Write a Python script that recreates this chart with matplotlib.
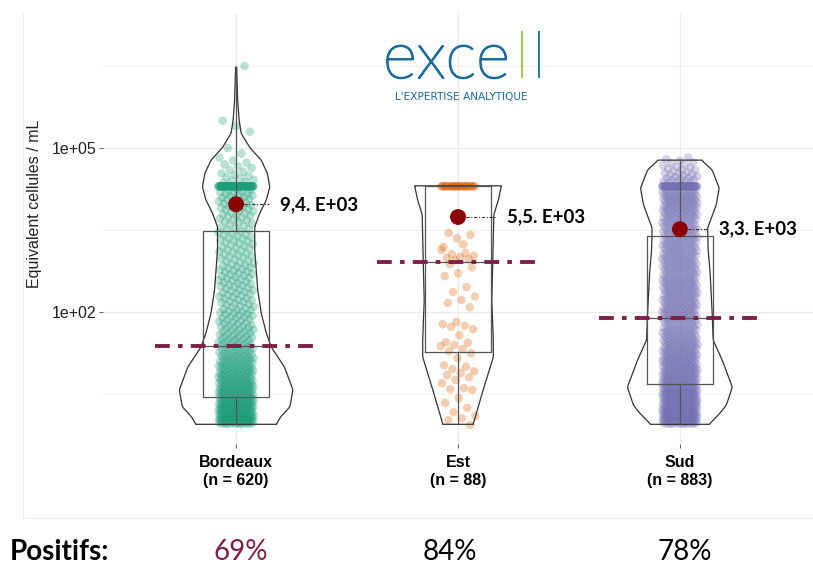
import numpy as np
import matplotlib
matplotlib.use('Agg')
import matplotlib.pyplot as plt
import matplotlib.patheffects as pe
from matplotlib.lines import Line2D
from matplotlib.ticker import FixedLocator, FuncFormatter

plt.rcParams['font.family'] = ['Liberation Sans', 'DejaVu Sans']

# sites and summary figures
sites = ['Bordeaux', 'Est', 'Sud']
n_samples = [620, 88, 883]
positive_pct = [69, 84, 78]
means = [9.4e3, 5.5e3, 3.3e3]

# box statistics (equivalent cells / mL)
q1 = [2.8, 18.6, 4.9]
medians = [24, 830, 78]
q3 = [3000, 2.0e4, 2450]
whisk_lo = [0.89, 0.89, 0.89]
whisk_hi = [3.0e6, 2.0e4, 6.0e4]

# results saturated at the upper limit of quantification
cap_value = 2.0e4
cap_counts = [80, 30, 55]

# Bordeaux: results per 0.1 log10 bin
bdx_levels = [0.0, 0.1, 0.2, 0.3, 0.4, 0.5, 0.6, 0.7, 0.8, 0.9, 1.0, 1.1, 1.2, 1.3,
              1.4, 1.5, 1.6, 1.7, 1.8, 1.9, 2.0, 2.1, 2.2, 2.3, 2.4, 2.5, 2.6, 2.7,
              2.8, 2.9, 3.0, 3.1, 3.2, 3.3, 3.4, 3.5, 3.6, 3.7, 3.8, 3.9, 4.0, 4.1,
              4.2, 4.4, 4.5, 4.6, 4.7, 4.8, 4.9, 5.0, 5.3, 5.4, 5.5, 6.5]
bdx_counts = [38, 34, 30, 28, 25, 24, 22, 20, 18, 17, 16, 14, 13, 11,
              11, 10, 9, 9, 8, 8, 8, 7, 7, 7, 7, 7, 7, 7,
              7, 6, 6, 6, 6, 6, 6, 5, 5, 6, 6, 7, 7, 8,
              8, 5, 4, 3, 3, 2, 1, 1, 1, 1, 1, 1]

# Est: individual results (log10)
est_values = [3.78, 3.45, 3.41, 3.35, 3.19, 3.08, 3.06, 3.03, 3.01, 2.99, 2.97, 2.95,
              3.14, 3.24, 2.88, 2.82, 2.71, 2.66, 2.46, 2.37, 2.29, 2.22, 2.17, 2.09,
              1.82, 1.78, 1.75, 1.73, 1.69, 1.58, 1.45, 1.44, 1.40, 1.38, 1.33, 1.29,
              1.25, 1.16, 1.03, 1.00, 0.96, 0.92, 0.89, 0.85, 0.81, 0.76, 0.70, 0.61,
              0.59, 0.58, 0.43, 0.34, 0.25, 0.17, 0.10, 0.06, 0.03, -0.06]

# Sud: results per 0.1 log10 bin
sud_levels = [0.0, 0.1, 0.2, 0.3, 0.4, 0.5, 0.6, 0.7, 0.8, 0.9, 1.0, 1.1, 1.2, 1.3,
              1.4, 1.5, 1.6, 1.7, 1.8, 1.9, 2.0, 2.1, 2.2, 2.3, 2.4, 2.5, 2.6, 2.7,
              2.8, 2.9, 3.0, 3.1, 3.2, 3.3, 3.4, 3.5, 3.6, 3.7, 3.8, 3.9, 4.0, 4.1,
              4.2, 4.4, 4.5, 4.6, 4.7, 4.8]
sud_counts = [36, 34, 33, 31, 30, 29, 27, 24, 23, 22, 21, 20, 19, 18,
              17, 16, 15, 14, 12, 16, 16, 16, 15, 15, 15, 15, 15, 14,
              14, 14, 14, 14, 14, 14, 13, 13, 13, 14, 15, 16, 17, 17,
              16, 10, 8, 6, 5, 3]

# violin density profiles (log10 level, relative density)
bdx_prof_log = [-0.05, 0.08, 0.27, 0.58, 1.0, 1.36, 1.62, 1.98, 2.40, 3.14, 3.56,
                3.81, 4.05, 4.29, 4.54, 4.78, 5.0, 5.27, 5.51, 5.88, 6.48]
bdx_prof_dens = [40, 44, 53.5, 56.5, 48, 35, 30, 25, 21.5, 18.5, 18.5,
                 23.5, 30, 33.5, 31, 25, 14, 5, 3, 1.5, 0.5]
est_prof_log = [-0.05, 0.58, 1.18, 1.49, 2.22, 2.95, 3.78, 4.05, 4.31]
est_prof_dens = [15, 25, 35, 35, 33.5, 34.5, 35.5, 40, 43]
sud_prof_log = [-0.05, 0.16, 0.30, 0.63, 1.12, 1.49, 1.98, 2.71, 3.14, 3.54,
                3.96, 4.27, 4.6, 4.78]
sud_prof_dens = [29, 40, 46, 52, 42, 33, 32, 30, 28, 27.5, 36, 39, 32, 21.5]

colors = ['#1B9E77', '#D95F02', '#7570B3']
maroon = '#7b2145'
logo_blue = '#1a6a9c'
logo_green = '#8dc63f'
violin_widths = [0.51, 0.39, 0.47]
leader_dx = [0.15, 0.175, 0.125]
label_dx = [0.2, 0.22, 0.175]


def expand(levels, counts, spread=0.1):
    out = []
    for lv, c in zip(levels, counts):
        out += [lv + ((j + 0.5) / c - 0.5) * spread for j in range(c)]
    return out


def jitter(n, half=0.08):
    phi = 0.6180339887
    return np.array([((i + 1) * phi % 1.0) * 2 - 1 for i in range(n)]) * half


cap_log = np.log10(cap_value)
groups = [
    expand(bdx_levels, bdx_counts) + [cap_log] * cap_counts[0],
    list(est_values) + [cap_log] * cap_counts[1],
    expand(sud_levels, sud_counts) + [cap_log] * cap_counts[2],
]
profiles = [(bdx_prof_log, bdx_prof_dens), (est_prof_log, est_prof_dens),
            (sud_prof_log, sud_prof_dens)]

W, H = 813, 565
fig = plt.figure(figsize=(W / 100, H / 100), dpi=100)
ax = fig.add_axes([103 / W, 1 - 444 / H, 710 / W, 431 / H])
ax.set_yscale('log')
positions = [1, 2, 3]

# jittered results
for p, vals, c in zip(positions, groups, colors):
    vals = np.array(vals)
    ax.scatter(p + jitter(len(vals)), 10 ** vals, s=38, color=c, alpha=0.3,
               edgecolors='none', zorder=2)

# violins from the density profiles
vpstats = []
for lv, dn in profiles:
    grid = np.arange(lv[0], lv[-1] + 1e-9, 0.01)
    d = np.interp(grid, lv, dn)
    k = np.hanning(13)
    k /= k.sum()
    d = np.convolve(np.pad(d, 6, mode='edge'), k, mode='valid')
    vpstats.append(dict(coords=10 ** grid, vals=d, mean=0, median=0,
                        min=10 ** lv[0], max=10 ** lv[-1]))
parts = ax.violin(vpstats, positions=positions, widths=violin_widths,
                  showextrema=False)
for b in parts['bodies']:
    b.set_facecolor('none')
    b.set_edgecolor('#333333')
    b.set_linewidth(0.9)
    b.set_alpha(1)
    b.set_zorder(3)

# boxes
stats = [dict(med=m, q1=a, q3=b, whislo=lo, whishi=hi)
         for m, a, b, lo, hi in zip(medians, q1, q3, whisk_lo, whisk_hi)]
line_kw = dict(color='#555555', lw=0.9)
ax.bxp(stats, positions=positions, widths=0.3, showfliers=False, showcaps=False,
       boxprops=line_kw, whiskerprops=line_kw, medianprops=line_kw,
       manage_ticks=False, zorder=3)

# medians as long dash-dot bars
ax.hlines(medians, [p - 0.365 for p in positions], [p + 0.365 for p in positions],
          colors=maroon, lw=2.8, linestyles=[(0, (3.8, 2.1, 1.2, 2.1))], zorder=5)


def sci_label(v):
    mant, exp = f"{v:.1e}".split('e')
    return mant.replace('.', ',') + '. E' + exp


# means with labels
ax.scatter(positions, means, s=130, color='#8B0000', edgecolors='none', zorder=7)
for p, m, ldx, tdx in zip(positions, means, leader_dx, label_dx):
    ax.plot([p, p + ldx], [m, m], color='#333333', lw=0.8,
            ls=(0, (3, 1.5, 1, 1.5)), zorder=6)
    ax.text(p + tdx, m, sci_label(m), fontsize=13.5, fontweight='bold',
            family='Lato', va='center', ha='left', zorder=8)

ax.set_xlim(0.4, 3.6)
ax.set_ylim(10 ** -0.41, 10 ** 7.47)
ax.set_xticks(positions)
ax.set_xticklabels([f"{s}\n(n = {n})" for s, n in zip(sites, n_samples)],
                   fontweight='bold', fontsize=11.5, color='black', linespacing=1.25)
ax.yaxis.set_major_locator(FixedLocator([1e-1, 1e2, 1e5, 1e8]))
ax.yaxis.set_major_formatter(FuncFormatter(lambda v, _: f"{v:.0e}"))
ax.yaxis.set_minor_locator(FixedLocator([10 ** 0.5, 10 ** 3.5, 10 ** 6.5]))
ax.tick_params(which='major', length=3, width=0.6, color='#444444', pad=2)
ax.tick_params(axis='x', pad=5)
ax.tick_params(axis='y', labelsize=11.5, labelcolor='#222222')
ax.tick_params(which='minor', length=0)
ax.grid(True, which='major', color='#ebebeb', lw=0.9)
ax.grid(True, which='minor', axis='y', color='#f0f0f0', lw=0.7)
ax.set_axisbelow(True)
for s in ax.spines.values():
    s.set_visible(False)

fig.text(35 / W, 1 - 204 / H, 'Equivalent cellules / mL', rotation=90,
         ha='center', va='center', fontsize=11.5, color='#222222')

# light frame around the plot area
fig.add_artist(Line2D([23 / W, 23 / W], [1 - 13 / H, 1 - 518 / H],
                      color='#eeeeee', lw=0.8))
fig.add_artist(Line2D([23 / W, 1], [1 - 518 / H, 1 - 518 / H],
                      color='#eeeeee', lw=0.8))

# logo
logo_kw = dict(fontsize=47, family='Lato', weight='light', va='baseline')
fig.text(383 / W, 1 - 78 / H, 'exce', color=logo_blue, ha='left',
         path_effects=[pe.withStroke(linewidth=1.3, foreground=logo_blue)], **logo_kw)
fig.text(522 / W, 1 - 78 / H, 'l', color=logo_green, ha='center',
         path_effects=[pe.withStroke(linewidth=1.3, foreground=logo_green)], **logo_kw)
fig.text(539 / W, 1 - 78 / H, 'l', color=logo_blue, ha='center',
         path_effects=[pe.withStroke(linewidth=1.3, foreground=logo_blue)], **logo_kw)
fig.text(461 / W, 1 - 100 / H, "L'EXPERTISE ANALYTIQUE", fontsize=7.6,
         family='DejaVu Sans', color=logo_blue, va='baseline', ha='center')

# share of positive results
fig.text(10 / W, 1 - 560 / H, 'Positifs:', fontsize=20, fontweight='bold',
         family='Lato', va='baseline', ha='left')
for px, pct, c in zip([241, 450, 685], positive_pct, [maroon, 'black', 'black']):
    fig.text(px / W, 1 - 560 / H, f"{pct}%", fontsize=20, family='Lato',
             color=c, va='baseline', ha='center')

fig.savefig('out.png', dpi=100)
